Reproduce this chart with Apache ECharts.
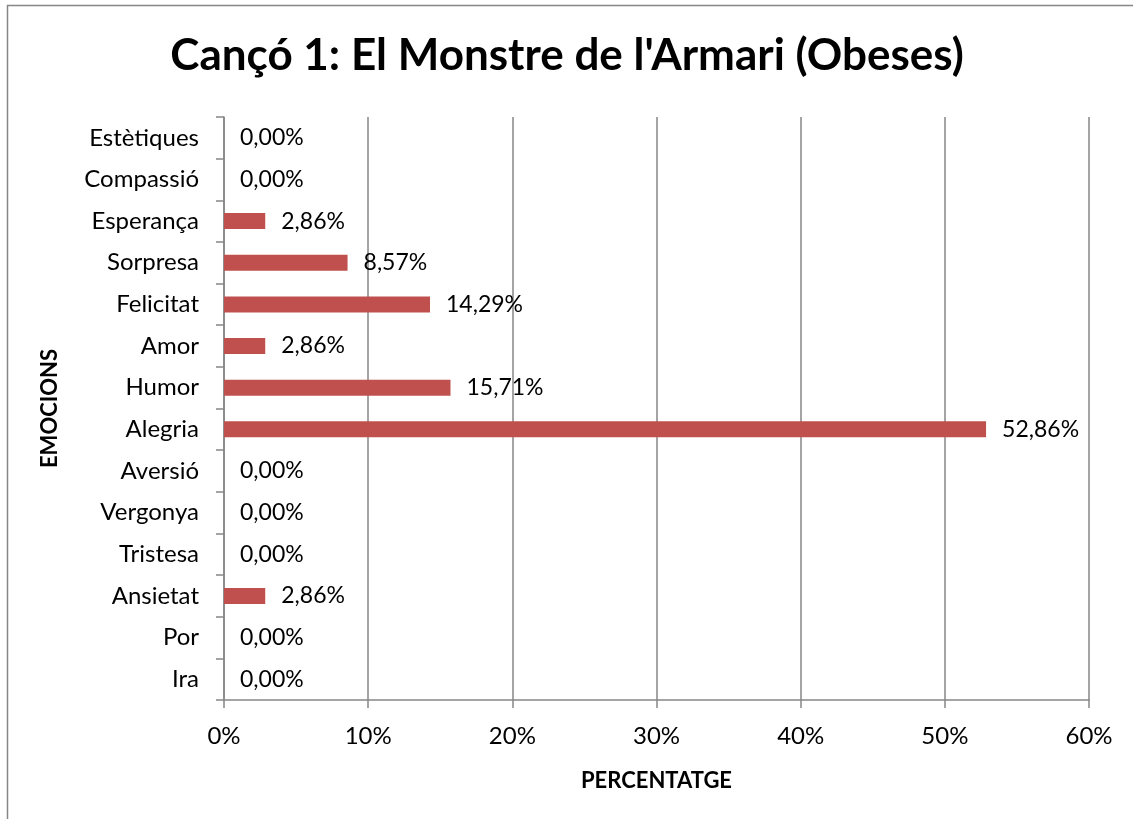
<!DOCTYPE html>
<html>
<head>
<meta charset="utf-8">
<script src="https://cdn.jsdelivr.net/npm/echarts@6/dist/echarts.min.js"></script>
<style>
  html, body { margin: 0; padding: 0; background: #fff; }
  #chart { width: 1134px; height: 819px; }
</style>
</head>
<body>
<div id="chart"></div>
<script>
// categories from bottom to top
var emocions = ['Ira', 'Por', 'Ansietat', 'Tristesa', 'Vergonya', 'Aversió', 'Alegria',
  'Humor', 'Amor', 'Felicitat', 'Sorpresa', 'Esperança', 'Compassió', 'Estètiques']
var percentatges = [0, 0, 2.86, 0, 0, 0, 52.86, 15.71, 2.86, 14.29, 8.57, 2.86, 0, 0]
var xTicks = { min: 0, max: 60, interval: 10 }

var font = 'Lato, "Open Sans", sans-serif'
var gris = '#868686'

var myChart = echarts.init(document.getElementById('chart'))
var option = {
  animation: false,
  backgroundColor: '#fff',
  textStyle: { fontFamily: font, color: '#000' },
  title: {
    text: "Cançó 1: El Monstre de l'Armari (Obeses)",
    left: 'center',
    top: 29,
    textStyle: { fontFamily: font, fontSize: 44, fontWeight: 'bold', color: '#000' }
  },
  graphic: [
    {
      type: 'polyline',
      shape: { points: [[7.5, 830], [7.5, 5.5], [1133, 5.5]] },
      style: { stroke: gris, fill: null, lineWidth: 1.5 }
    }
  ],
  grid: { left: 224, right: 45, top: 117, bottom: 119 },
  xAxis: {
    type: 'value',
    min: xTicks.min,
    max: xTicks.max,
    interval: xTicks.interval,
    name: 'PERCENTATGE',
    nameLocation: 'middle',
    nameGap: 70,
    nameTextStyle: { fontFamily: font, fontSize: 22, fontWeight: 'bold', color: '#000' },
    axisLine: { show: true, lineStyle: { color: gris, width: 1.5 } },
    axisTick: { show: true, length: 8, lineStyle: { color: gris, width: 1.5 } },
    axisLabel: { formatter: '{value}%', fontSize: 24, color: '#000', margin: 24 },
    splitLine: { show: true, lineStyle: { color: gris, width: 1.5 } }
  },
  yAxis: {
    type: 'category',
    data: emocions,
    name: 'EMOCIONS',
    nameLocation: 'middle',
    nameGap: 163,
    nameRotate: 90,
    nameTextStyle: { fontFamily: font, fontSize: 22, fontWeight: 'bold', color: '#000' },
    axisLine: { show: true, lineStyle: { color: gris, width: 1.5 } },
    axisTick: { show: true, length: 8, lineStyle: { color: gris, width: 1.5 } },
    axisLabel: { fontSize: 24, color: '#000', margin: 25 },
    splitLine: { show: false }
  },
  series: [
    {
      type: 'bar',
      data: percentatges,
      barWidth: 16,
      itemStyle: { color: '#C0504D' },
      label: {
        show: true,
        position: 'right',
        distance: 16,
        fontSize: 23,
        color: '#000',
        fontFamily: font,
        formatter: function (p) {
          return p.value.toFixed(2).replace('.', ',') + '%'
        }
      }
    }
  ]
}
myChart.setOption(option)
</script>
</body>
</html>
